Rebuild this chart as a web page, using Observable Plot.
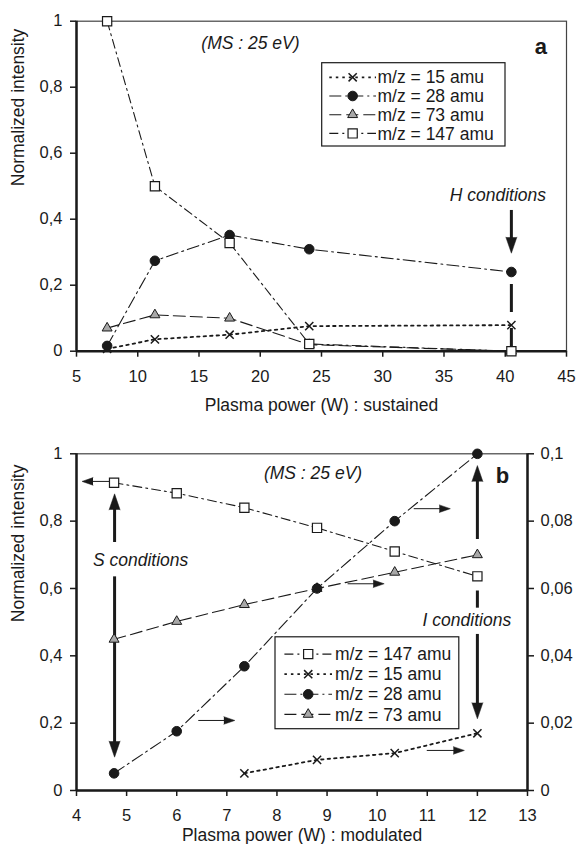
<!DOCTYPE html>
<html><head><meta charset="utf-8">
<script src="https://cdn.jsdelivr.net/npm/d3@7"></script>
<script src="https://cdn.jsdelivr.net/npm/@observablehq/plot@0.6"></script>
<style>
body{margin:0;background:#fff;}
#fig{position:relative;width:577px;height:844px;}
#top{position:absolute;left:0;top:0}
#bot{position:absolute;left:0;top:430px}
</style></head><body><div id="fig"><div id="top"></div><div id="bot"></div></div>
<script>
// ---------- Panel a : sustained plasma ----------
const powerA = [7.5, 11.4, 17.5, 24, 40.5];
const a15  = [0.007, 0.036, 0.050, 0.076, 0.079];
const a28  = [0.016, 0.274, 0.352, 0.309, 0.240];
const a73  = [0.070, 0.110, 0.100, 0.020, 0.000];
const a147 = [1.000, 0.500, 0.328, 0.022, 0.000];
const xTicksA = [5, 10, 15, 20, 25, 30, 35, 40, 45];
const yTicksLeft = [0, 0.2, 0.4, 0.6, 0.8, 1];
const legendA = ["15", "28", "73", "147"];
const notesItalicA = [
  {text: "(MS : 25 eV)", x: 19.2, y: 0.932},
  {text: "H conditions", x: 39.4, y: 0.472}
];
const notesBoldA = [{text: "a", x: 42.9, y: 0.921}];
const thickArrowsA = [{x1: 40.5, y1: 0.428, x2: 40.5, y2: 0.297}];
const dashedRulesA = [{x1: 40.5, y1: 0.204, x2: 40.5, y2: 0.0}];

// ---------- Panel b : modulated plasma ----------
const powerB = [4.75, 6.0, 7.35, 8.8, 10.35, 12.0];
const b147 = [0.914, 0.883, 0.840, 0.780, 0.710, 0.636];       // left axis
const b28  = [0.0051, 0.0176, 0.0369, 0.0600, 0.0800, 0.1000]; // right axis
const b73  = [0.0449, 0.0502, 0.0552, 0.0600, 0.0648, 0.0700]; // right axis
const powerB15 = [7.35, 8.8, 10.35, 12.0];
const b15  = [0.0051, 0.0091, 0.0111, 0.0170];                 // right axis
const xTicksB = [4, 5, 6, 7, 8, 9, 10, 11, 12, 13];
const yTicksRight = [0, 0.02, 0.04, 0.06, 0.08, 0.1];
const RIGHT_FACTOR = 10; // right axis 0..0.1 maps onto left axis 0..1
const legendB = ["147", "15", "28", "73"];
const notesItalicB = [
  {text: "(MS : 25 eV)", x: 8.72, y: 0.941},
  {text: "S conditions", x: 5.28, y: 0.683},
  {text: "I conditions", x: 11.79, y: 0.505}
];
const notesBoldB = [{text: "b", x: 12.5, y: 0.934}];
const thickArrowsB = [
  {x1: 4.76, y1: 0.738, x2: 4.76, y2: 0.881},
  {x1: 4.76, y1: 0.636, x2: 4.76, y2: 0.099},
  {x1: 12.0, y1: 0.747, x2: 12.0, y2: 0.965},
  {x1: 12.0, y1: 0.465, x2: 12.0, y2: 0.213}
];
const thickSegmentsB = [{x1: 12.0, y1: 0.594, x2: 12.0, y2: 0.543}];
const thinArrowsB = [
  {x1: 4.68, y1: 0.918, x2: 4.11, y2: 0.918},
  {x1: 6.43, y1: 0.208, x2: 7.16, y2: 0.208},
  {x1: 9.41, y1: 0.614, x2: 10.14, y2: 0.614},
  {x1: 10.73, y1: 0.837, x2: 11.46, y2: 0.837},
  {x1: 10.99, y1: 0.119, x2: 11.74, y2: 0.119}
];

// ---------- styling ----------
const FONT = '"Liberation Sans", Arial, Helvetica, sans-serif';
const INK = "#1a1a1a";
const fmt = d => d3.format(".2~f")(d).replace(".", ",");
const STYLE = {
  "15":  {dash: "2.5,4", width: 1.8, symbol: "times", r: 3.8, fill: "none", sw: 1.5},
  "28":  {dash: "12,4,2,4", width: 1.1, symbol: "circle", r: 4.8, fill: INK, sw: 1},
  "73":  {dash: "12,5", width: 1.1, symbol: "triangle", r: 3.7, fill: "#a8a8a8", sw: 1},
  "147": {dash: "9,4,2,4", width: 1.1, symbol: "square", r: 5.2, fill: "white", sw: 1.2}
};
const LABEL = k => `m/z = ${k} amu`;

function pts(xs, ys, k = 1) { return xs.map((x, i) => ({x, y: ys[i] * k})); }
function lineMark(key, data) {
  const s = STYLE[key];
  return Plot.line(data, {x: "x", y: "y", stroke: INK, strokeWidth: s.width, strokeDasharray: s.dash});
}
function dotMark(key, data) {
  const s = STYLE[key];
  return Plot.dot(data, {x: "x", y: "y", symbol: s.symbol, r: s.r, fill: s.fill, stroke: INK, strokeWidth: s.sw});
}
function arrowMarks(list, o, pxX, pxY) {
  const shaft = list.map(d => {
    const dx = (d.x2 - d.x1) * pxX, dy = (d.y2 - d.y1) * pxY;
    const L = Math.hypot(dx, dy);
    const f = (L - (o.head - 2)) / L;
    return {x1: d.x1, y1: d.y1, x2: d.x1 + (d.x2 - d.x1) * f, y2: d.y1 + (d.y2 - d.y1) * f};
  });
  const heads = list.map(d => ({x: d.x2, y: d.y2,
    rot: Math.atan2((d.x2 - d.x1) * pxX, (d.y2 - d.y1) * pxY) * 180 / Math.PI}));
  return [
    Plot.link(shaft, {x1: "x1", y1: "y1", x2: "x2", y2: "y2", stroke: INK, strokeWidth: o.width}),
    Plot.vector(heads, {x: "x", y: "y", rotate: "rot", length: o.head, r: o.r, shape: "spike",
      anchor: "end", fill: INK, stroke: INK, strokeWidth: 0.5})
  ];
}
function notes(italic, bold, size) {
  return [
    Plot.text(italic, {x: "x", y: "y", text: "text", fontStyle: "italic", fontSize: 17.5,
      textAnchor: "middle", lineAnchor: "middle", fill: INK}),
    Plot.text(bold, {x: "x", y: "y", text: "text", fontWeight: "bold", fontSize: size,
      textAnchor: "middle", lineAnchor: "middle", fill: INK})
  ];
}
function addLegend(svg, keys, box, firstY, step, sx0, sx1, tx) {
  const g = d3.select(svg).append("g").attr("text-anchor", "start");
  g.append("rect").attr("x", box.x).attr("y", box.y).attr("width", box.w).attr("height", box.h)
    .attr("fill", "white").attr("stroke", INK).attr("stroke-width", 1.2);
  keys.forEach((k, i) => {
    const s = STYLE[k], cy = firstY + i * step, cx = (sx0 + sx1) / 2;
    g.append("line").attr("x1", sx0).attr("x2", sx1).attr("y1", cy).attr("y2", cy)
      .attr("stroke", INK).attr("stroke-width", s.width).attr("stroke-dasharray", s.dash);
    if (s.symbol === "circle") {
      g.append("circle").attr("cx", cx).attr("cy", cy).attr("r", s.r).attr("fill", s.fill)
        .attr("stroke", INK).attr("stroke-width", s.sw);
    } else {
      const sym = {times: d3.symbolTimes, triangle: d3.symbolTriangle, square: d3.symbolSquare}[s.symbol];
      g.append("path").attr("transform", `translate(${cx},${cy})`)
        .attr("d", d3.symbol(sym, s.r * s.r * Math.PI)())
        .attr("fill", s.fill).attr("stroke", INK).attr("stroke-width", s.sw);
    }
    g.append("text").attr("x", tx).attr("y", cy).attr("dy", "0.35em").attr("text-anchor", "start")
      .attr("font-size", 17.5).attr("fill", INK).text(LABEL(k));
  });
}

// ---------- Panel a ----------
const W = 577;
const LA = {h: 430, top: 20.7, bottom: 79.3, left: 76, right: 11};
const xDomA = [5, 45], yDom = [0, 1];
const pxXA = (W - LA.left - LA.right) / (xDomA[1] - xDomA[0]);
const pxYA = (LA.h - LA.top - LA.bottom) / (yDom[1] - yDom[0]);

const plotA = Plot.plot({
  width: W, height: LA.h,
  marginTop: LA.top, marginBottom: LA.bottom, marginLeft: LA.left, marginRight: LA.right,
  style: {fontFamily: FONT, fontSize: "16.5px", color: INK, background: "white", overflow: "visible"},
  x: {domain: xDomA, label: null},
  y: {domain: yDom, label: null},
  marks: [
    Plot.frame({stroke: "#444", strokeWidth: 1.2}),
    Plot.ruleX([xDomA[0]], {stroke: INK, strokeWidth: 2.5}),
    Plot.ruleY([yDom[0]], {stroke: INK, strokeWidth: 2.5}),
    Plot.axisX({ticks: xTicksA, tickSize: 6, tickPadding: 13, tickFormat: d => String(d), label: null, strokeWidth: 1.5}),
    Plot.axisY({ticks: yTicksLeft, tickSize: 6, tickPadding: 8, tickFormat: fmt, label: null, strokeWidth: 1.5}),
    Plot.text(["Plasma power (W) : sustained"], {frameAnchor: "bottom", dy: 54.3, lineAnchor: "middle", fontSize: 17.5, fill: INK}),
    Plot.text(["Normalized intensity"], {frameAnchor: "left", dx: -57.7, rotate: -90, lineAnchor: "middle", fontSize: 17.5, fill: INK}),
    Plot.link(dashedRulesA, {x1: "x1", y1: "y1", x2: "x2", y2: "y2", stroke: INK, strokeWidth: 3, strokeDasharray: "28,16"}),
    ...arrowMarks(thickArrowsA, {width: 3, head: 16, r: 5.5}, pxXA, pxYA),
    lineMark("15", pts(powerA, a15)),
    lineMark("28", pts(powerA, a28)),
    lineMark("73", pts(powerA, a73)),
    lineMark("147", pts(powerA, a147)),
    dotMark("15", pts(powerA, a15)),
    dotMark("73", pts(powerA, a73)),
    dotMark("28", pts(powerA, a28)),
    dotMark("147", pts(powerA, a147)),
    ...notes(notesItalicA, notesBoldA, 22)
  ]
});
document.getElementById("top").appendChild(plotA);
addLegend(plotA, legendA, {x: 321.7, y: 62.7, w: 183.3, h: 83.3}, 77.3, 18.7, 329.3, 376, 377.5);

// ---------- Panel b ----------
const LB = {h: 414, top: 23.3, bottom: 54, left: 76, right: 50};
const xDomB = [4, 13];
const pxXB = (W - LB.left - LB.right) / (xDomB[1] - xDomB[0]);
const pxYB = (LB.h - LB.top - LB.bottom) / (yDom[1] - yDom[0]);

const plotB = Plot.plot({
  width: W, height: LB.h,
  marginTop: LB.top, marginBottom: LB.bottom, marginLeft: LB.left, marginRight: LB.right,
  style: {fontFamily: FONT, fontSize: "16.5px", color: INK, background: "white", overflow: "visible"},
  x: {domain: xDomB, label: null},
  y: {domain: yDom, label: null},
  marks: [
    Plot.frame({stroke: "#444", strokeWidth: 1.2}),
    Plot.ruleX([xDomB[0], xDomB[1]], {stroke: INK, strokeWidth: 2.5}),
    Plot.ruleY([yDom[0]], {stroke: INK, strokeWidth: 2.5}),
    Plot.axisX({ticks: xTicksB, tickSize: 6, tickPadding: 13, tickFormat: d => String(d), label: null, strokeWidth: 1.5}),
    Plot.axisY({ticks: yTicksLeft, tickSize: 6, tickPadding: 8, tickFormat: fmt, label: null, strokeWidth: 1.5}),
    Plot.axisY({anchor: "right", ticks: yTicksRight.map(t => t * RIGHT_FACTOR), tickSize: 6, tickPadding: 7,
      tickFormat: d => fmt(d / RIGHT_FACTOR), label: null, strokeWidth: 1.5}),
    Plot.text(["Plasma power (W) : modulated"], {frameAnchor: "bottom", dy: 44.5, lineAnchor: "middle", fontSize: 17.5, fill: INK}),
    Plot.text(["Normalized intensity"], {frameAnchor: "left", dx: -57.7, rotate: -90, lineAnchor: "middle", fontSize: 17.5, fill: INK}),
    ...arrowMarks(thickArrowsB, {width: 3, head: 16, r: 5.5}, pxXB, pxYB),
    Plot.link(thickSegmentsB, {x1: "x1", y1: "y1", x2: "x2", y2: "y2", stroke: INK, strokeWidth: 3}),
    ...arrowMarks(thinArrowsB, {width: 1, head: 11, r: 3.8}, pxXB, pxYB),
    lineMark("147", pts(powerB, b147)),
    lineMark("28", pts(powerB, b28, RIGHT_FACTOR)),
    lineMark("73", pts(powerB, b73, RIGHT_FACTOR)),
    lineMark("15", pts(powerB15, b15, RIGHT_FACTOR)),
    dotMark("147", pts(powerB, b147)),
    dotMark("73", pts(powerB, b73, RIGHT_FACTOR)),
    dotMark("28", pts(powerB, b28, RIGHT_FACTOR)),
    dotMark("15", pts(powerB15, b15, RIGHT_FACTOR)),
    ...notes(notesItalicB, notesBoldB, 22)
  ]
});
document.getElementById("bot").appendChild(plotB);
addLegend(plotB, legendB, {x: 275, y: 206.8, w: 183.8, h: 91.9}, 224.1, 20.1, 284.4, 332, 335);
</script></body></html>
